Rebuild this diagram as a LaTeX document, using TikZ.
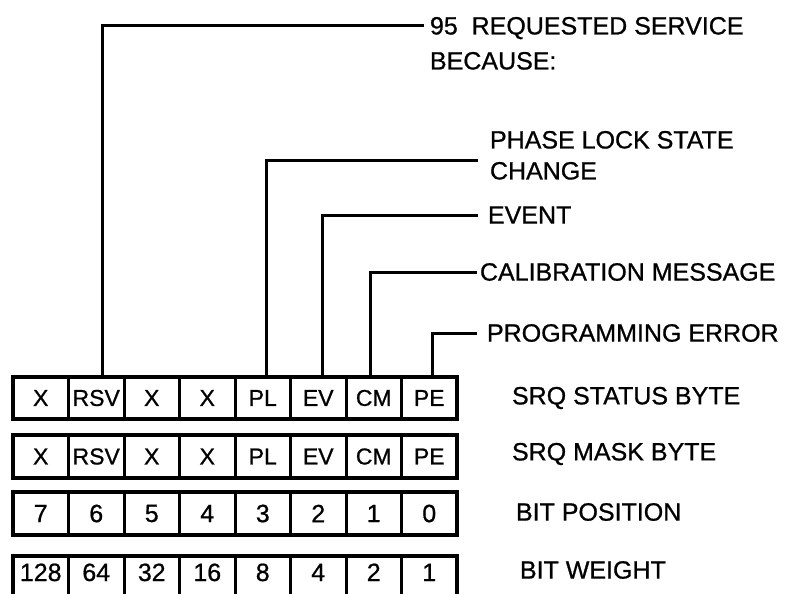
\documentclass[tikz,border=0pt]{standalone}
\usepackage{fontspec}
\setmainfont{Liberation Sans}[FakeBold=0.8]
\usetikzlibrary{calc}
\begin{document}
\begin{tikzpicture}[x=1pt,y=-1pt,
  cell/.style={draw, line width=3pt, minimum width=55.5pt, inner sep=0pt, outer sep=0pt,
    anchor=north west, font=\fontsize{23}{23}\selectfont},
  numcell/.style={cell, font=\fontsize{25}{25}\selectfont},
  frame/.style={line width=3.6pt},
  conn/.style={line width=3pt},
  lab/.style={inner sep=0pt, outer sep=0pt, anchor=west, font=\fontsize{25}{31}\selectfont, align=left},
]
\useasboundingbox (0,0) rectangle (793,594);
\clip (0,0) rectangle (793,594);

% row 1: SRQ status byte
\foreach \t [count=\i from 0] in {X,RSV,X,X,PL,EV,CM,PE}
  \node[cell, minimum height=42pt] (s\i) at ({13+55.5*\i},377) {\t};
% row 2: SRQ mask byte
\foreach \t [count=\i from 0] in {X,RSV,X,X,PL,EV,CM,PE}
  \node[cell, minimum height=43pt] (m\i) at ({13+55.5*\i},435) {\t};
% row 3: bit position
\foreach \t [count=\i from 0] in {7,6,5,4,3,2,1,0}
  \node[numcell, minimum height=43pt] (p\i) at ({13+55.5*\i},492) {\t};
% row 4: bit weight (cut by the lower edge)
\foreach \t [count=\i from 0] in {128,64,32,16,8,4,2,1}
  \node[numcell, minimum height=44pt, text height=18pt, text depth=12pt] (w\i) at ({13+55.5*\i},556) {\t};

\draw[frame] (s0.north west) rectangle (s7.south east);
\draw[frame] (m0.north west) rectangle (m7.south east);
\draw[frame] (p0.north west) rectangle (p7.south east);
\draw[frame] (w0.north west) rectangle (w7.south east);

% labels
\node[lab, anchor=north west, font=\fontsize{25}{35}\selectfont] (t95) at (430,17) {95\ \ REQUESTED SERVICE\\BECAUSE:};
\node[lab, anchor=north west] (tpl) at (490,131) {PHASE LOCK STATE\\CHANGE};
\node[lab] (tev) at (488,215) {EVENT};
\node[lab] (tcm) at (480,272) {CALIBRATION MESSAGE};
\node[lab] (tpe) at (487,333) {PROGRAMMING ERROR};

\node[lab] (tsrq) at (512,398) {SRQ STATUS BYTE};
\node[lab] (tmask) at (512,454) {SRQ MASK BYTE};
\node[lab] (tpos) at (516,512) {BIT POSITION};
\node[lab] (twt) at (520,570) {BIT WEIGHT};

% connectors
\draw[conn] ([xshift=6pt]s1.north) |- ([shift={(-6pt,-9pt)}]t95.north west);
\draw[conn] ([xshift=4pt]s4.north) |- ([shift={(-12pt,-29pt)}]tpl.north west);
\draw[conn, shorten >=10pt] ([xshift=4pt]s5.north) |- (tev.west);
\draw[conn, shorten >=3pt] ([xshift=-3pt]s6.north) |- (tcm.west);
\draw[conn, shorten >=10pt] ([xshift=3pt]s7.north) |- (tpe.west);
\end{tikzpicture}
\end{document}
